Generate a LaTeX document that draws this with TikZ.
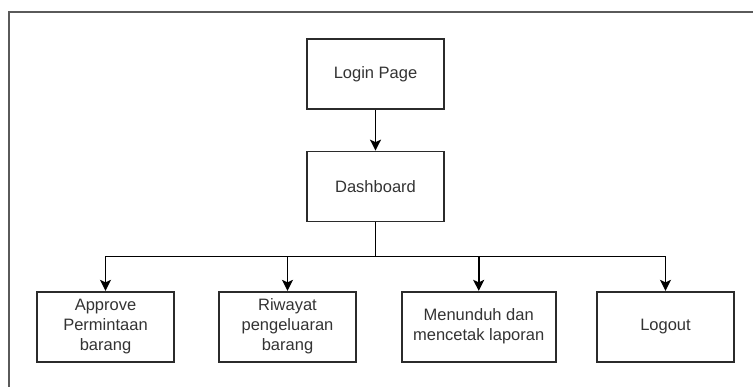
\documentclass[tikz,border=0pt]{standalone}
\usepackage{fontspec}
\setmainfont{Liberation Sans}
\usetikzlibrary{arrows.meta}
\definecolor{boxc}{HTML}{2B2B2B}
\definecolor{txt}{HTML}{333333}
\definecolor{framec}{HTML}{5A5A5A}
\begin{document}
\begin{tikzpicture}[x=1pt,y=-1pt,
  box/.style={draw=boxc, line width=1.7pt, minimum width=137pt, minimum height=70pt,
    align=center, inner sep=0pt, text=txt, font=\fontsize{16.5}{20}\selectfont},
  conn/.style={draw=black, line width=1.6pt, -{Stealth[length=11pt,width=11pt,inset=2.5pt]}},
  plain/.style={draw=black, line width=1.6pt},
  frame/.style={draw=framec, line width=1.8pt}]
\clip (0,0) rectangle (753,386);
\fill[white] (0,0) rectangle (753,386);
\draw[frame] (9,12) rectangle (780,420);
\node[box] (login) at (375.5,74) {Login Page};
\node[box] (dash) at (375.5,186.5) {Dashboard};
\node[box] (c1) at (105.5,326.7) {Approve\\Permintaan\\barang};
\node[box] (c2) at (287.5,326.7) {Riwayat\\pengeluaran\\barang};
\node[box, minimum width=154pt] (c3) at (478.7,326.7) {Menunduh dan\\mencetak laporan};
\node[box] (c4) at (665.5,326.7) {Logout};
\coordinate (bus) at (375.5,256.5);
\draw[conn] (login) -- (dash);
\draw[plain] (dash.south) -- (bus);
\draw[conn] (bus) -| (c1.north);
\draw[conn] (bus) -| (c2.north);
\draw[conn] (bus) -| (c3.north);
\draw[conn] (bus) -| (c4.north);
\end{tikzpicture}
\end{document}
